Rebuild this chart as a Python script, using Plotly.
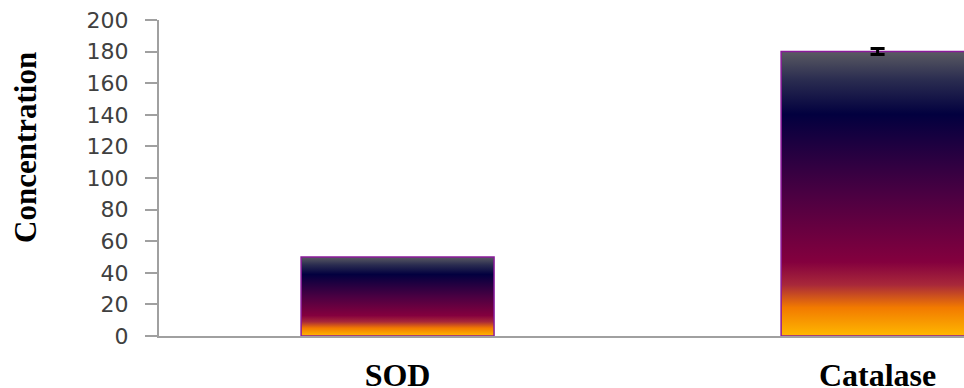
import plotly.graph_objects as go

categories = ["SOD", "Catalase"]
values = [50, 180]
errors = [0, 1.9]
y_ticks = [0, 20, 40, 60, 80, 100, 120, 140, 160, 180, 200]

positions = list(range(len(categories)))
bar_width = 0.402

gradient = [
    [0.0, "#FFB800"],
    [0.1, "#F27A00"],
    [0.18, "#A8283A"],
    [0.26, "#84003E"],
    [0.5, "#4A0042"],
    [0.78, "#02003F"],
    [0.9, "#2A2C50"],
    [1.0, "#5A5A62"],
]

fig = go.Figure()

for pos, cat, val in zip(positions, categories, values):
    x0, x1 = pos - bar_width / 2, pos + bar_width / 2
    fig.add_trace(go.Scatter(
        x=[x0, x0, x1, x1, x0],
        y=[0, val, val, 0, 0],
        mode="lines",
        fill="toself",
        fillgradient=dict(type="vertical", colorscale=gradient),
        line=dict(color="#8A1A9A", width=1.5),
        name=cat,
        showlegend=False,
        hoverinfo="skip",
    ))

err_idx = [i for i, e in enumerate(errors) if e > 0]
fig.add_trace(go.Scatter(
    x=[positions[i] for i in err_idx],
    y=[values[i] for i in err_idx],
    mode="markers",
    marker=dict(size=1, color="rgba(0,0,0,0)"),
    error_y=dict(type="data", array=[errors[i] for i in err_idx], color="black",
                 thickness=3, width=7, visible=True),
    showlegend=False,
    hovertemplate="%{y}<extra></extra>",
))

fig.update_layout(
    width=964,
    height=388,
    margin=dict(l=159, r=0, t=20, b=52),
    paper_bgcolor="white",
    plot_bgcolor="white",
    showlegend=False,
    xaxis=dict(
        range=[-0.497, 1.18],
        tickvals=positions,
        ticktext=categories,
        showgrid=False,
        zeroline=False,
        showline=True,
        linecolor="#A0A0A0",
        linewidth=2,
        ticks="",
        automargin=False,
        tickfont=dict(family="Liberation Serif", size=32, color="black", weight="bold"),
        ticklabelstandoff=10,
    ),
    yaxis=dict(
        range=[0, 200],
        tickvals=y_ticks,
        showgrid=False,
        zeroline=False,
        showline=True,
        linecolor="#A0A0A0",
        linewidth=2,
        ticks="outside",
        ticklen=12,
        tickwidth=2,
        tickcolor="#A0A0A0",
        automargin=False,
        tickfont=dict(family="DejaVu Sans", size=22, color="#404040"),
        ticklabelstandoff=12,
    ),
    annotations=[dict(
        text="Concentration",
        textangle=-90,
        xref="paper", yref="paper",
        x=(25 - 159) / 805, y=(336 - 148) / 316,
        xanchor="center", yanchor="middle",
        showarrow=False,
        font=dict(family="Liberation Serif", size=31, color="black", weight="bold"),
    )],
)

fig.write_html("out.html", config={"displayModeBar": False},
               post_script="document.body.style.margin='0';")
